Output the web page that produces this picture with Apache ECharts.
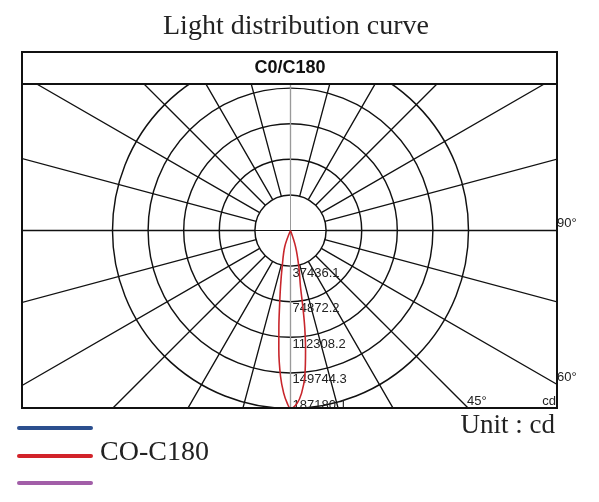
<!DOCTYPE html>
<html>
<head>
<meta charset="utf-8">
<title>Light distribution curve</title>
<script src="https://cdn.jsdelivr.net/npm/echarts@6/dist/echarts.min.js"></script>
<style>
html, body { margin: 0; padding: 0; background: #fff; }
#chart { width: 599px; height: 502px; }
</style>
</head>
<body>
<div id="chart"></div>
<script>
// C0/C180 plane: angle from nadir in degrees (negative = left half) and intensity in cd
const angles = [-25, -19.6, -13.0, -10.1, -8.2, -6.9, -5.6, -3.9, -2.4, -1.1, 0, 2.2, 3.9, 5.6, 7.2, 8.4, 9.2, 10.1, 13.0, 17.4, 24]
const intensity = [0, 17900, 38800, 59800, 80800, 101700, 125800, 153900, 171200, 181600, 187180, 181700, 171400, 154300, 126200, 102000, 80800, 59800, 38800, 17700, 0]
const ringLabels = ['37436.1', '74872.2', '112308.2', '149744.3', '187180.1']
const maxCd = 187180.1
const step = maxCd / ringLabels.length

// half pixel so the straight spokes land on whole pixels
const center = [290.5, 230.5]
const ink = '#111'
const grey = '#9a9a9a'

// spokes every 15 deg, the vertical ones are drawn grey
let spokeColors = [grey]
for (let i = 1; i < 12; i++) spokeColors.push(ink)

let chart = echarts.init(document.getElementById('chart'))
let option = {
    animation: false,
    backgroundColor: '#fff',
    polar: [
        { center: center, radius: 178 },
        { center: center, radius: [35.6, 330] }
    ],
    angleAxis: [
        {
            polarIndex: 0,
            type: 'value',
            min: 0,
            max: 360,
            interval: 90,
            startAngle: 270,
            clockwise: false,
            axisLine: { show: false },
            axisTick: { show: false },
            axisLabel: { show: false },
            splitLine: { show: true, lineStyle: { color: [grey, ink], width: 1 } }
        },
        {
            polarIndex: 1,
            type: 'value',
            min: 0,
            max: 360,
            interval: 15,
            startAngle: 270,
            clockwise: false,
            axisLine: { show: false },
            axisTick: { show: false },
            axisLabel: { show: false },
            splitLine: { show: true, lineStyle: { color: spokeColors, width: 1.35 } }
        }
    ],
    radiusAxis: [
        {
            polarIndex: 0,
            type: 'value',
            min: 0,
            max: maxCd,
            interval: step,
            axisLine: { show: false },
            axisTick: { show: false },
            splitLine: { show: true, lineStyle: { color: ink, width: 1.45 } },
            axisLabel: {
                show: true,
                showMinLabel: false,
                showMaxLabel: true,
                margin: 2,
                align: 'left',
                verticalAlign: 'middle',
                formatter: function (value) {
                    let i = Math.round(value / step)
                    if (i === 0) return ''
                    return (i === ringLabels.length ? '{b|' : '{a|') + ringLabels[i - 1] + '}'
                },
                rich: {
                    a: { fontFamily: 'Liberation Sans', fontSize: 13, color: '#222', padding: [14, 0, 0, 0] },
                    b: { fontFamily: 'Liberation Sans', fontSize: 13, color: '#222', padding: [0, 0, 6, 0] }
                }
            }
        },
        {
            polarIndex: 1,
            type: 'value',
            min: 0,
            max: 1,
            axisLine: { show: false },
            axisTick: { show: false },
            axisLabel: { show: false },
            splitLine: { show: false }
        }
    ],
    series: [
        {
            name: 'CO-C180',
            type: 'line',
            coordinateSystem: 'polar',
            polarIndex: 0,
            smooth: 0.35,
            symbol: 'none',
            lineStyle: { color: '#c8262c', width: 1.6 },
            data: angles.map((a, i) => [intensity[i], a < 0 ? 360 + a : a])
        }
    ],
    graphic: {
        elements: [
            // white masks so the grid stays inside the frame
            { type: 'rect', z: 100, shape: { x: 0, y: 0, width: 599, height: 84 }, style: { fill: '#fff' } },
            { type: 'rect', z: 100, shape: { x: 0, y: 409, width: 599, height: 93 }, style: { fill: '#fff' } },
            { type: 'rect', z: 100, shape: { x: 0, y: 0, width: 22, height: 502 }, style: { fill: '#fff' } },
            { type: 'rect', z: 100, shape: { x: 557, y: 0, width: 42, height: 502 }, style: { fill: '#fff' } },
            // frame and header
            { type: 'rect', z: 110, shape: { x: 22, y: 52, width: 535, height: 356 }, style: { fill: null, stroke: '#111', lineWidth: 2 } },
            { type: 'line', z: 110, shape: { x1: 22, y1: 84, x2: 557, y2: 84 }, style: { stroke: '#111', lineWidth: 2 } },
            { type: 'text', z: 110, x: 296, y: 27, style: { text: 'Light distribution curve', fontFamily: 'Liberation Serif', fontSize: 28, fill: '#222', align: 'center', verticalAlign: 'middle' } },
            { type: 'text', z: 110, x: 290, y: 68.5, style: { text: 'C0/C180', fontFamily: 'Liberation Sans', fontWeight: 'bold', fontSize: 18, fill: '#111', align: 'center', verticalAlign: 'middle' } },
            // angle marks
            { type: 'text', z: 110, x: 557, y: 223, style: { text: '90°', fontFamily: 'Liberation Sans', fontSize: 13, fill: '#222', align: 'left', verticalAlign: 'middle' } },
            { type: 'text', z: 110, x: 557, y: 377, style: { text: '60°', fontFamily: 'Liberation Sans', fontSize: 13, fill: '#222', align: 'left', verticalAlign: 'middle' } },
            { type: 'text', z: 110, x: 467, y: 401, style: { text: '45°', fontFamily: 'Liberation Sans', fontSize: 13, fill: '#222', align: 'left', verticalAlign: 'middle' } },
            { type: 'text', z: 110, x: 556, y: 401, style: { text: 'cd', fontFamily: 'Liberation Sans', fontSize: 13, fill: '#222', align: 'right', verticalAlign: 'middle' } },
            // legend
            { type: 'line', z: 110, shape: { x1: 19, y1: 428, x2: 91, y2: 428 }, style: { stroke: '#2b4f8e', lineWidth: 4, lineCap: 'round' } },
            { type: 'line', z: 110, shape: { x1: 19, y1: 456, x2: 91, y2: 456 }, style: { stroke: '#d2232a', lineWidth: 4, lineCap: 'round' } },
            { type: 'line', z: 110, shape: { x1: 19, y1: 483, x2: 91, y2: 483 }, style: { stroke: '#a25ea8', lineWidth: 4, lineCap: 'round' } },
            { type: 'text', z: 110, x: 100, y: 453, style: { text: 'CO-C180', fontFamily: 'Liberation Serif', fontSize: 28, fill: '#222', align: 'left', verticalAlign: 'middle' } },
            { type: 'text', z: 110, x: 555, y: 426, style: { text: 'Unit : cd', fontFamily: 'Liberation Serif', fontSize: 27, fill: '#222', align: 'right', verticalAlign: 'middle' } }
        ]
    }
}
chart.setOption(option)
window.addEventListener('resize', () => {
    chart.resize()
})
</script>
</body>
</html>
